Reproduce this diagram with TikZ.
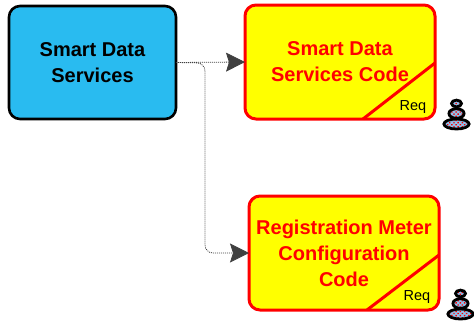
\documentclass[tikz,border=0pt]{standalone}
\usepackage{fontspec}
\setmainfont{Liberation Sans}
\usetikzlibrary{arrows.meta, patterns.meta}
\definecolor{skyfill}{RGB}{41,187,240}
\definecolor{codefill}{RGB}{255,255,0}
\definecolor{codeline}{RGB}{255,0,0}
\definecolor{tipgrey}{RGB}{64,64,64}
\definecolor{stackblue}{RGB}{140,196,240}
\tikzset{
  block/.style = {rectangle, rounded corners = 11, line width = 2.6, outer sep = 0,
    minimum width = 167, minimum height = 113, align = center,
    font = \fontsize{20}{26}\selectfont\bfseries},
  service/.style = {block, draw = black, fill = skyfill, text = black},
  code/.style = {block, draw = codeline, line width = 3, fill = codefill, text = codeline,
    minimum width = 190, minimum height = 114},
  tag/.style = {font = \fontsize{14.5}{14.5}\selectfont, text = black, inner sep = 0},
  link/.style = {draw = tipgrey, line width = 0.8, dash pattern = on 1 off 1,
    -{Stealth[length = 19, width = 19, inset = 3, fill = tipgrey]}},
  cut/.style = {draw = codeline, line width = 3},
  bead/.style = {draw = black, line width = 2.8, preaction = {fill = stackblue},
    pattern = {Dots[radius = 1, distance = 3, angle = 45]}, pattern color = codeline},
  stack/.pic = {
    \draw [bead] (0, -6) ellipse [x radius = 12.6, y radius = 5];
    \draw [bead] (0, -16.5) ellipse [x radius = 7.6, y radius = 4.8];
    \draw [bead] (0, -26.5) ellipse [x radius = 5, y radius = 3.4];
  }
}
\begin{document}
\begin{tikzpicture}[x = 1pt, y = -1pt]
    \useasboundingbox (0, 0) rectangle (474, 322);

    \node [service] (data) at (92.5, 62.5) {Smart Data\\Services};
    \node [code] (sdcode) at (340, 62) {Smart Data\\Services Code};
    \node [code] (rmcode) at (344, 253) {Registration Meter\\Configuration\\Code};

    \coordinate (C1) at (363, 119);
    \coordinate (C2) at (435, 63);
    \coordinate (C3) at (367, 310);
    \coordinate (C4) at (439, 255);
    \draw [cut] (C1) -- (C2);
    \draw [cut] (C3) -- (C4);

    \node [tag] (req1) at (413, 107) {Req};
    \node [tag] (req2) at (417, 297) {Req};

    \coordinate (B1) at (205, 63);
    \coordinate (B2) at (205, 253);
    \draw [link] (data.east) -- (sdcode.west);
    \draw [link, rounded corners = 8] (data.east) -- (B1) -- (B2) -- (rmcode.west);

    \pic at (456.5, 130) {stack};
    \pic at (460.5, 320) {stack};
  \end{tikzpicture}
\end{document}
